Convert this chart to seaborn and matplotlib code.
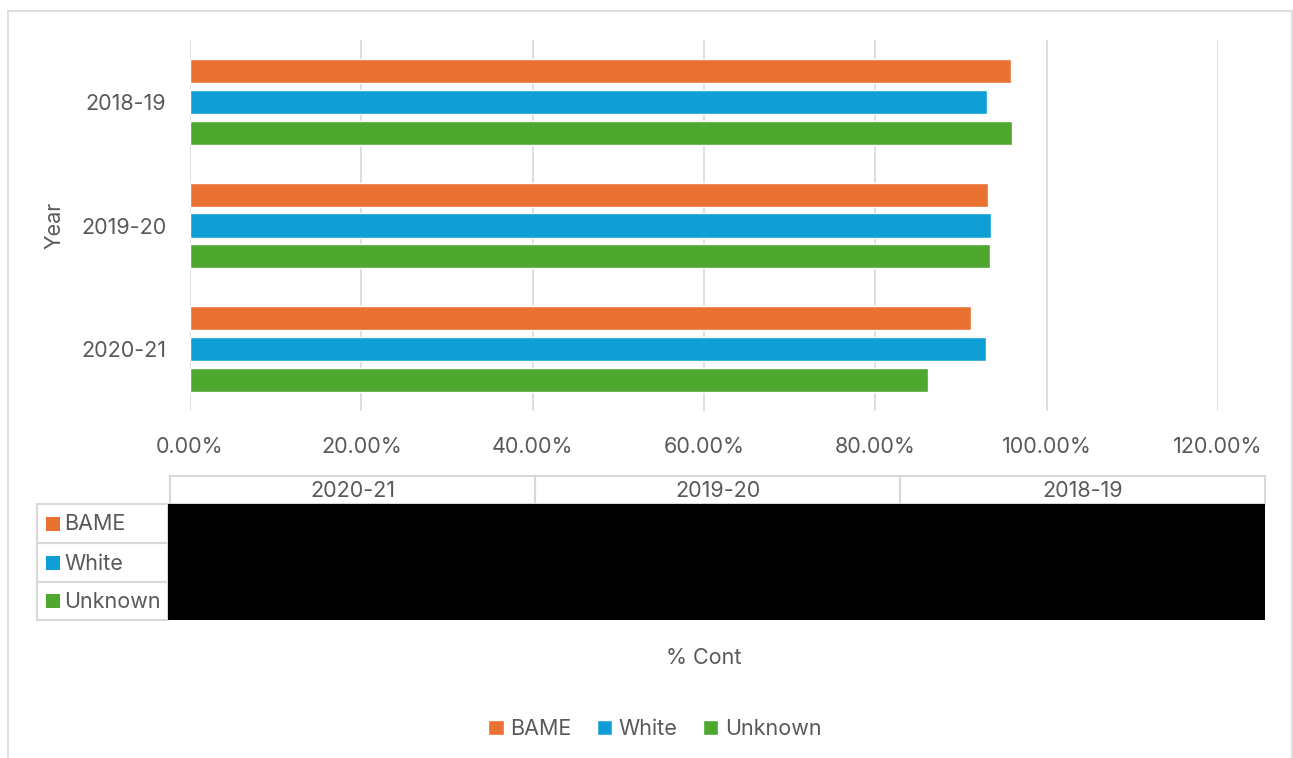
import matplotlib
matplotlib.use("Agg")
import matplotlib.pyplot as plt
from matplotlib.patches import Rectangle
from matplotlib.ticker import FuncFormatter
import seaborn as sns
import pandas as pd

# Share of cases by ethnicity group and year
years = ["2018-19", "2019-20", "2020-21"]
groups = ["BAME", "White", "Unknown"]
bame = [0.958, 0.931, 0.912]
white = [0.930, 0.935, 0.929]
unknown = [0.960, 0.934, 0.862]
table_years = ["2020-21", "2019-20", "2018-19"]
x_ticks = [0.0, 0.2, 0.4, 0.6, 0.8, 1.0, 1.2]

colors = {"BAME": "#E97132", "White": "#0F9ED5", "Unknown": "#4EA72E"}
text_col = "#595959"
line_col = "#D9D9D9"

df = pd.DataFrame({
    "Year": years * 3,
    "Group": ["BAME"] * 3 + ["White"] * 3 + ["Unknown"] * 3,
    "Value": bame + white + unknown,
})

sns.set_theme(style="white")
plt.rcParams["font.family"] = ["Inter", "DejaVu Sans"]
fs = 15.5

W, H = 1293, 758
fig = plt.figure(figsize=(W / 100, H / 100), dpi=100)


def fx(px):
    return px / W


def fy(py):
    return 1 - py / H


# Chart frame
fig.patches.append(Rectangle((fx(8), fy(775)), fx(1292) - fx(8), fy(11) - fy(775),
                             transform=fig.transFigure, fill=False,
                             edgecolor=line_col, linewidth=1.2, zorder=0))

ax = fig.add_axes([fx(190), fy(411), fx(1218) - fx(190), fy(40) - fy(411)])
sns.barplot(data=df, x="Value", y="Year", hue="Group", order=years,
            hue_order=groups, palette=colors, orient="h", width=0.75,
            gap=0.22, saturation=1, ax=ax, errorbar=None)

ax.set_xlim(0, 1.2)
ax.set_ylim(2.5, -0.5)
ax.set_xticks(x_ticks)
ax.xaxis.set_major_formatter(FuncFormatter(lambda v, p: f"{v * 100:.2f}%"))
ax.grid(axis="x", color=line_col, linewidth=1.2)
ax.set_axisbelow(True)
for s in ax.spines.values():
    s.set_visible(False)
ax.tick_params(axis="both", length=0, labelsize=fs, labelcolor=text_col)
ax.tick_params(axis="x", pad=19)
ax.tick_params(axis="y", pad=17)
ax.set_xlabel("")
ax.set_ylabel("Year", fontsize=fs, color=text_col, labelpad=12)

handles, labels = ax.get_legend_handles_labels()
ax.get_legend().remove()

# Data table under the axis
tab_left, tab_right = 170, 1265
head_top, head_bot = 476, 504
row_edges = [504, 543, 582, 620]
key_left, key_right = 37, 168
col_w = (tab_right - tab_left) / len(table_years)

for i, yr in enumerate(table_years):
    x0 = tab_left + i * col_w
    fig.patches.append(Rectangle((fx(x0), fy(head_bot)), col_w / W,
                                 (head_bot - head_top) / H,
                                 transform=fig.transFigure, fill=False,
                                 edgecolor=line_col, linewidth=1.5))
    fig.text(fx(x0 + col_w / 2), fy((head_top + head_bot) / 2 + 1), yr,
             ha="center", va="center", fontsize=fs, color=text_col)

for j, g in enumerate(groups):
    y0, y1 = row_edges[j], row_edges[j + 1]
    fig.patches.append(Rectangle((fx(key_left), fy(y1)), (key_right - key_left) / W,
                                 (y1 - y0) / H, transform=fig.transFigure,
                                 fill=False, edgecolor=line_col, linewidth=1.5))
    fig.patches.append(Rectangle((fx(46), fy((y0 + y1) / 2 + 7)), 14 / W, 14 / H,
                                 transform=fig.transFigure, facecolor=colors[g],
                                 edgecolor="none"))
    fig.text(fx(64), fy((y0 + y1) / 2 + 1), g, ha="left", va="center",
             fontsize=fs, color=text_col)

# Value cells
fig.patches.append(Rectangle((fx(168), fy(row_edges[-1])), (tab_right - 168) / W,
                             (row_edges[-1] - row_edges[0]) / H,
                             transform=fig.transFigure, facecolor="black",
                             edgecolor="none", zorder=3))

fig.text(fx(704), fy(658), "% Cont", ha="center", va="center",
         fontsize=fs, color=text_col)

fig.legend(handles, labels, loc="center", bbox_to_anchor=(fx(655), fy(729)),
           ncol=3, frameon=False, fontsize=fs, labelcolor=text_col,
           handlelength=0.7, handleheight=0.7, handletextpad=0.3,
           columnspacing=1.2)

fig.savefig("out.png", dpi=100)
